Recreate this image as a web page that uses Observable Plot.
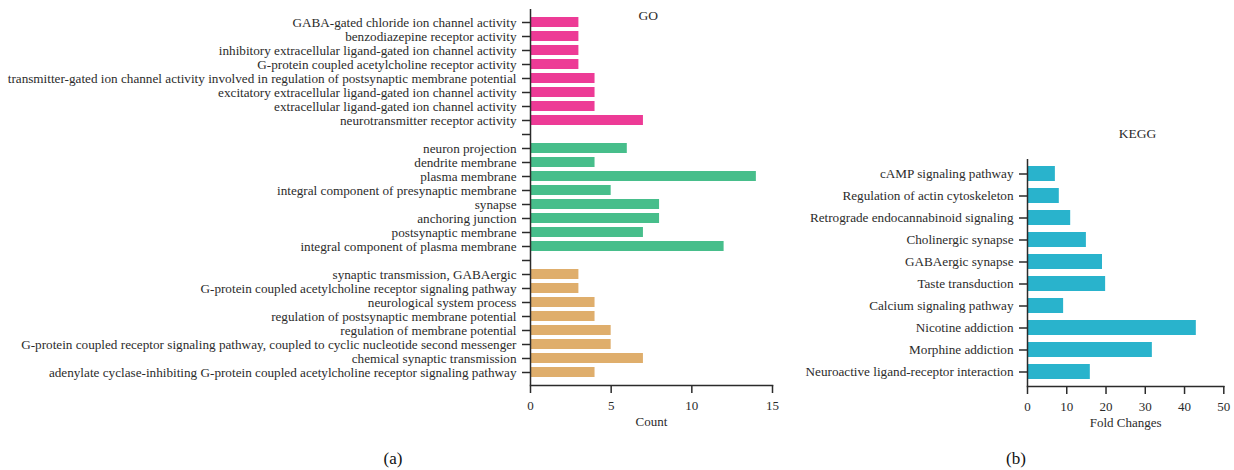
<!DOCTYPE html>
<html>
<head>
<meta charset="utf-8">
<script src="https://cdn.jsdelivr.net/npm/d3@7"></script>
<script src="https://cdn.jsdelivr.net/npm/@observablehq/plot@0.6"></script>
<style>
  html, body { margin: 0; padding: 0; background: #fff; }
  body { width: 1234px; height: 470px; position: relative; overflow: hidden; font-family: "Liberation Serif", "DejaVu Serif", serif; }
  .panel { position: absolute; top: 0; }
  .cap { position: absolute; font-size: 17px; color: #111; transform: translateX(-50%); }
</style>
</head>
<body>
<div id="go" class="panel" style="left:0px"></div>
<div id="kegg" class="panel" style="left:780px"></div>
<div class="cap" style="left:393px; top:449px">(a)</div>
<div class="cap" style="left:1016px; top:449px">(b)</div>
<script>
// GO terms (top to bottom); blank entries are spacer rows
const mfTerms = [
  "GABA-gated chloride ion channel activity",
  "benzodiazepine receptor activity",
  "inhibitory extracellular ligand-gated ion channel activity",
  "G-protein coupled acetylcholine receptor activity",
  "transmitter-gated ion channel activity involved in regulation of postsynaptic membrane potential",
  "excitatory extracellular ligand-gated ion channel activity",
  "extracellular ligand-gated ion channel activity",
  "neurotransmitter receptor activity"
];
const mfCounts = [3, 3, 3, 3, 4, 4, 4, 7];
const ccTerms = [
  "neuron projection",
  "dendrite membrane",
  "plasma membrane",
  "integral component of presynaptic membrane",
  "synapse",
  "anchoring junction",
  "postsynaptic membrane",
  "integral component of plasma membrane"
];
const ccCounts = [6, 4, 14, 5, 8, 8, 7, 12];
const bpTerms = [
  "synaptic transmission, GABAergic",
  "G-protein coupled acetylcholine receptor signaling pathway",
  "neurological system process",
  "regulation of postsynaptic membrane potential",
  "regulation of membrane potential",
  "G-protein coupled receptor signaling pathway, coupled to cyclic nucleotide second messenger",
  "chemical synaptic transmission",
  "adenylate cyclase-inhibiting G-protein coupled acetylcholine receptor signaling pathway"
];
const bpCounts = [3, 3, 4, 4, 5, 5, 7, 4];
const goTicks = [0, 5, 10, 15];

// KEGG pathways (top to bottom)
const keggTerms = [
  "cAMP signaling pathway",
  "Regulation of actin cytoskeleton",
  "Retrograde endocannabinoid signaling",
  "Cholinergic synapse",
  "GABAergic synapse",
  "Taste transduction",
  "Calcium signaling pathway",
  "Nicotine addiction",
  "Morphine addiction",
  "Neuroactive ligand-receptor interaction"
];
const keggFold = [7.1, 8.1, 11, 15, 19.1, 19.9, 9.2, 43, 31.8, 16];
const keggTicks = [0, 10, 20, 30, 40, 50];

const groupColors = {MF: "#ED3B96", CC: "#47BE8B", BP: "#DFAE6C"};
const keggColor = "#29B3CC";

const gap1 = " ", gap2 = "  ";
const goRows = [
  ...mfTerms.map((t, i) => ({term: t, count: mfCounts[i], group: "MF"})),
  ...ccTerms.map((t, i) => ({term: t, count: ccCounts[i], group: "CC"})),
  ...bpTerms.map((t, i) => ({term: t, count: bpCounts[i], group: "BP"}))
];
const goDomain = [...mfTerms, gap1, ...ccTerms, gap2, ...bpTerms];

const font = "'Liberation Serif', 'DejaVu Serif', serif";
const ink = "#2b2b2b";

const goPlot = Plot.plot({
  width: 790,
  height: 440,
  marginLeft: 530,
  marginRight: 18,
  marginTop: 9,
  marginBottom: 55,
  style: {fontFamily: font, fontSize: "13.2px", color: ink, background: "transparent"},
  x: {domain: [0, 15], ticks: goTicks, label: null},
  y: {domain: goDomain, paddingInner: 0.3, paddingOuter: 0.3, label: null},
  color: {domain: ["MF", "CC", "BP"], range: [groupColors.MF, groupColors.CC, groupColors.BP]},
  marks: [
    Plot.barX(goRows, {x: "count", y: "term", fill: "group"}),
    Plot.axisY({tickSize: 8, tickPadding: 6, tickFormat: d => d.trim() === "" ? "" : d, fontSize: 13.2, stroke: ink, strokeWidth: 1.5}),
    Plot.axisX({ticks: goTicks, tickSize: 8, tickPadding: 7, fontSize: 13, stroke: ink, strokeWidth: 1.5, label: "Count", labelAnchor: "center", labelOffset: 40, labelArrow: "none"}),
    Plot.ruleX([0], {stroke: ink, strokeWidth: 1.5}),
    Plot.frame({anchor: "bottom", stroke: ink, strokeWidth: 1.5}),
    Plot.text(["GO"], {frameAnchor: "top", x: 7.3, dy: 1, fontSize: 13.5, fill: ink})
  ]
});
document.getElementById("go").appendChild(goPlot);

const keggRows = keggTerms.map((t, i) => ({term: t, fold: keggFold[i]}));
const keggPlot = Plot.plot({
  width: 454,
  height: 440,
  marginLeft: 247,
  marginRight: 10.7,
  marginTop: 159,
  marginBottom: 54,
  style: {fontFamily: font, fontSize: "13.2px", color: ink, background: "transparent"},
  x: {domain: [0, 50], ticks: keggTicks, label: null},
  y: {domain: keggTerms, paddingInner: 0.33, paddingOuter: 0.2, label: null},
  marks: [
    Plot.barX(keggRows, {x: "fold", y: "term", fill: keggColor}),
    Plot.axisY({tickSize: 8, tickPadding: 6, fontSize: 13.2, stroke: ink, strokeWidth: 1.5}),
    Plot.axisX({ticks: keggTicks, tickSize: 8, tickPadding: 7, fontSize: 13, stroke: ink, strokeWidth: 1.5, label: "Fold Changes", labelAnchor: "center", labelOffset: 40, labelArrow: "none"}),
    Plot.ruleX([0], {stroke: ink, strokeWidth: 1.5}),
    Plot.frame({anchor: "bottom", stroke: ink, strokeWidth: 1.5}),
    Plot.text(["KEGG"], {frameAnchor: "top", x: 28, dy: -31, fontSize: 13.5, fill: ink})
  ]
});
document.getElementById("kegg").appendChild(keggPlot);
</script>
</body>
</html>
